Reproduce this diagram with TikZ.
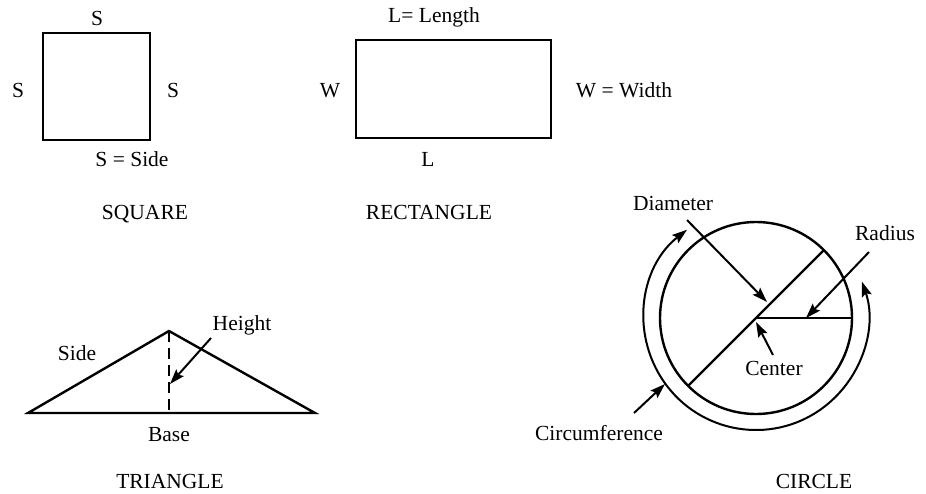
\documentclass[tikz,border=0pt]{standalone}
\usepackage{fontspec}
\setmainfont{Liberation Serif}
\usetikzlibrary{arrows.meta}
\begin{document}
\begin{tikzpicture}[x=1pt,y=-1pt,
  figline/.style={line width=2.4pt},
  lbl/.style={inner sep=0pt, anchor=base, font=\fontsize{21.5}{25}\selectfont},
  ptr/.style={line width=2pt,-{Stealth[length=15pt,width=10pt,inset=2.5pt]}},
  dblptr/.style={line width=2pt,{Stealth[length=15pt,width=10pt,inset=2.5pt]}-{Stealth[length=15pt,width=10pt,inset=2.5pt]}},
]
\useasboundingbox (0,0) rectangle (926,493);

% ---------- Square ----------
\draw[figline] (43,33) rectangle (150,140);
\node[lbl] (sqtop) at (97,25) {S};
\node[lbl] (sqleft) at (18,97) {S};
\node[lbl] (sqright) at (173,97) {S};
\node[lbl] (sqside) at (132,166) {S = Side};
\node[lbl] (sqname) at (145,219) {SQUARE};

% ---------- Rectangle ----------
\draw[figline] (356,40) rectangle (551,138);
\node[lbl] (rtop) at (434,22) {L= Length};
\node[lbl] (rleft) at (330,97) {W};
\node[lbl] (rright) at (624,97) {W = Width};
\node[lbl] (rbot) at (428,166) {L};
\node[lbl] (rname) at (429,219) {RECTANGLE};

% ---------- Triangle ----------
\coordinate (tl) at (28,413);
\coordinate (tapex) at (169,331);
\coordinate (tr) at (315,413);
\coordinate (tfoot) at (169,413);
\coordinate (thgt) at (170,384);
\draw[figline, line join=miter] (tl) -- (tapex) -- (tr) -- cycle;
\draw[line width=1.8pt, dash pattern=on 11pt off 6pt] (tapex) -- (tfoot);
\node[lbl] (height) at (242,330) {Height};
\node[lbl] (tside) at (77,360) {Side};
\node[lbl] (tbase) at (169,441) {Base};
\node[lbl] (tname) at (170,488) {TRIANGLE};
\draw[ptr] (211,338) -- (thgt);

% ---------- Circle ----------
\coordinate (cc) at (756,318);
\draw[figline] (cc) circle[radius=96pt];
\path (cc) ++(45:96pt) coordinate (d1);
\path (cc) ++(225:96pt) coordinate (d2);
\draw[line width=2.2pt] (d1) -- (d2);
\draw[line width=2pt] (cc) -- ++(96,0) coordinate (rend);
\draw[dblptr] (cc) ++(128:112pt) arc[start angle=128, end angle=379, radius=112pt];

\node[lbl] (diam) at (673,210) {Diameter};
\node[lbl] (rad) at (885,240) {Radius};
\node[lbl] (cen) at (774,375) {Center};
\node[lbl] (circ) at (599,440) {Circumference};
\node[lbl] (cname) at (814,488) {CIRCLE};

\coordinate (dtail) at (687,220);
\coordinate (dhead) at (767,302);
\coordinate (rtail) at (869,252);
\coordinate (rhead) at (806,318);
\coordinate (ctail) at (773,355);
\coordinate (chead) at (756,322);
\coordinate (ftail) at (634,413);
\coordinate (fhead) at (665,384);
\draw[ptr] (dtail) -- (dhead);
\draw[ptr] (rtail) -- (rhead);
\draw[ptr] (ctail) -- (chead);
\draw[ptr] (ftail) -- (fhead);
\end{tikzpicture}
\end{document}
